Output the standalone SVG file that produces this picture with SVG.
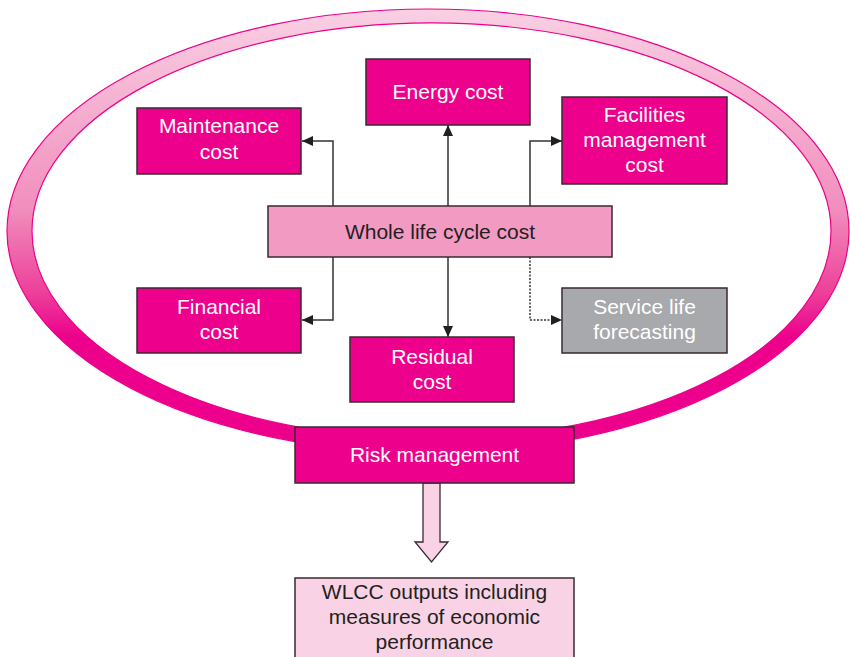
<svg xmlns="http://www.w3.org/2000/svg" width="850" height="657" viewBox="0 0 850 657">
<style>
.box{stroke:#3a2a33;stroke-width:1.5}
.mag{fill:#ec008c}
.wt{fill:#ffffff;font-family:"Liberation Sans",Arial,sans-serif;font-size:21px;text-anchor:middle}
.dk{fill:#231f20;font-family:"Liberation Sans",Arial,sans-serif;font-size:21px;text-anchor:middle}
.conn{fill:none;stroke:#333333;stroke-width:1.5}
</style>
<defs>
<linearGradient id="ringGrad" gradientUnits="userSpaceOnUse" x1="0" y1="9" x2="0" y2="453">
<stop offset="0" stop-color="#f9d0e3"/>
<stop offset="0.45" stop-color="#f18ebd"/>
<stop offset="0.64" stop-color="#ed3f99"/>
<stop offset="0.74" stop-color="#ec008c"/>
<stop offset="1" stop-color="#ec008c"/>
</linearGradient>
<marker id="arr" markerUnits="userSpaceOnUse" markerWidth="12" markerHeight="10" refX="11" refY="5" orient="auto">
<path d="M0,0 L11,5 L0,10 Z" fill="#231f20"/>
</marker>
</defs>
<g id="ring">
<path d="M 7 231 A 421 222 0 1 0 849 231 A 421 222 0 1 0 7 231 Z M 32 231 A 399.5 208 0 1 0 831 231 A 399.5 208 0 1 0 32 231 Z" fill="url(#ringGrad)" fill-rule="evenodd" stroke="#ec008c" stroke-width="1.2"/>
</g>
<g id="connectors">
<polyline class="conn" points="333,206 333,141 302,141" marker-end="url(#arr)"/>
<polyline class="conn" points="448,206 448,125" marker-end="url(#arr)"/>
<polyline class="conn" points="530,206 530,141 562,141" marker-end="url(#arr)"/>
<polyline class="conn" points="333,257 333,320 302,320" marker-end="url(#arr)"/>
<polyline class="conn" points="448,257 448,337" marker-end="url(#arr)"/>
<polyline class="conn" points="530,257 530,320 562,320" stroke-dasharray="2,1.5" marker-end="url(#arr)"/>
<path id="output-arrow" d="M423,483 L440,483 L440,542 L448,542 L431.5,562 L415,542 L423,542 Z" fill="#f9d3e5" stroke="#3a2a33" stroke-width="1.3"/>
</g>
<g id="maintenance">
<rect class="box mag" x="137" y="108" width="164" height="66"/>
<text class="wt" x="219" y="133">Maintenance</text>
<text class="wt" x="219" y="159">cost</text>
</g>
<g id="energy">
<rect class="box mag" x="366" y="59" width="164" height="66"/>
<text class="wt" x="448" y="99">Energy cost</text>
</g>
<g id="facilities">
<rect class="box mag" x="562" y="97" width="165" height="87"/>
<text class="wt" x="644.5" y="122">Facilities</text>
<text class="wt" x="644.5" y="147">management</text>
<text class="wt" x="644.5" y="172">cost</text>
</g>
<g id="wlcc">
<rect class="box" x="268" y="206" width="344" height="51" fill="#f39ac3"/>
<text class="dk" x="440" y="239">Whole life cycle cost</text>
</g>
<g id="financial">
<rect class="box mag" x="137" y="288" width="164" height="65"/>
<text class="wt" x="219" y="314">Financial</text>
<text class="wt" x="219" y="339">cost</text>
</g>
<g id="residual">
<rect class="box mag" x="350" y="337" width="164" height="65"/>
<text class="wt" x="432" y="364">Residual</text>
<text class="wt" x="432" y="389">cost</text>
</g>
<g id="service-life">
<rect class="box" x="562" y="288" width="165" height="65" fill="#a7a9ac"/>
<text class="wt" x="644.5" y="314" fill="#f2f2f2">Service life</text>
<text class="wt" x="644.5" y="339" fill="#f2f2f2">forecasting</text>
</g>
<g id="risk">
<rect class="box mag" x="295" y="427" width="279" height="56"/>
<text class="wt" x="434.5" y="462">Risk management</text>
</g>
<g id="outputs">
<rect class="box" x="295" y="578" width="279" height="85" fill="#f9d3e5"/>
<text class="dk" x="434.5" y="599">WLCC outputs including</text>
<text class="dk" x="434.5" y="624">measures of economic</text>
<text class="dk" x="434.5" y="649">performance</text>
</g>
</svg>
